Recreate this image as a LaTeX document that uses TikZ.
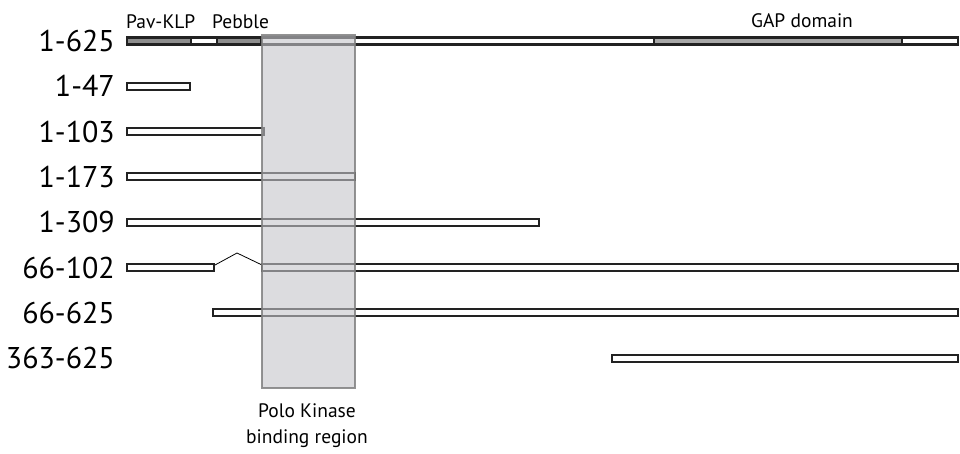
\documentclass[tikz,border=0pt]{standalone}
\usepackage{fontspec}
\setmainfont{PT Sans}
\definecolor{domA}{HTML}{8E8E8E}
\definecolor{domB}{HTML}{A8A8A8}
\definecolor{regfill}{HTML}{C5C5CA}
\definecolor{regline}{HTML}{808080}
\definecolor{barline}{HTML}{222222}
\begin{document}
\begin{tikzpicture}[x=1pt,y=-1pt,
  bar/.style={draw=barline,line width=2.2pt,fill=white},
  dom/.style={draw=barline,line width=2.2pt,fill=domA},
  gapdom/.style={draw=barline,line width=2.2pt,fill=domB},
  lbl/.style={font=\fontsize{30}{32}\selectfont,anchor=base east,inner sep=0pt},
  small/.style={font=\fontsize{19.5}{21}\selectfont,inner sep=0pt},
  region/.style={draw=regline,line width=2pt,fill=regfill,fill opacity=0.6,draw opacity=0.85}]
\useasboundingbox (0,0) rectangle (960,454);
\def\h{3.5}
% rows
\foreach \n/\t [count=\i from 0] in {a/1-625,b/1-47,c/1-103,d/1-173,e/1-309,f/66-102,g/66-625,h/363-625}{
  \pgfmathsetmacro\yy{41+45.3*\i}
  \node[lbl] (lab\n) at (115,\yy+10.5) {\t};
}
% 1-625
\draw[bar] (127,41-\h) rectangle (958,41+\h);
\draw[dom] (127,41-\h) rectangle (191,41+\h);
\draw[dom] (217,41-\h) rectangle (261,41+\h);
\draw[gapdom] (654,41-\h) rectangle (902,41+\h);
\node[small,anchor=base west] (pav) at (126,29) {Pav-KLP};
\node[small,anchor=base west] (peb) at (212,29) {Pebble};
\node[small,anchor=base] (gap) at (802,28) {GAP domain};
% 1-47
\draw[bar] (127,86.3-\h) rectangle (190,86.3+\h);
% 1-103
\draw[bar] (127,131.6-\h) rectangle (264,131.6+\h);
% 1-173
\draw[bar] (127,176.9-\h) rectangle (355,176.9+\h);
% 1-309
\draw[bar] (127,222.2-\h) rectangle (539,222.2+\h);
% 66-102 deletion
\draw[bar] (127,267.5-\h) rectangle (214,267.5+\h);
\draw[bar] (262,267.5-\h) rectangle (958,267.5+\h);
\coordinate (d1) at (215,265);
\coordinate (dp) at (237,253);
\coordinate (d2) at (262,265);
\draw[line width=0.8pt] (d1) -- (dp) -- (d2);
% 66-625
\draw[bar] (213,312.8-\h) rectangle (958,312.8+\h);
% 363-625
\draw[bar] (612,358.1-\h) rectangle (958,358.1+\h);
% Polo kinase binding region
\draw[region] (262,35) rectangle (355,388);
\node[small,anchor=base,align=center] (polo) at (307,417) {Polo Kinase};
\node[small,anchor=base,align=center] (bind) at (307,443) {binding region};
\end{tikzpicture}
\end{document}
